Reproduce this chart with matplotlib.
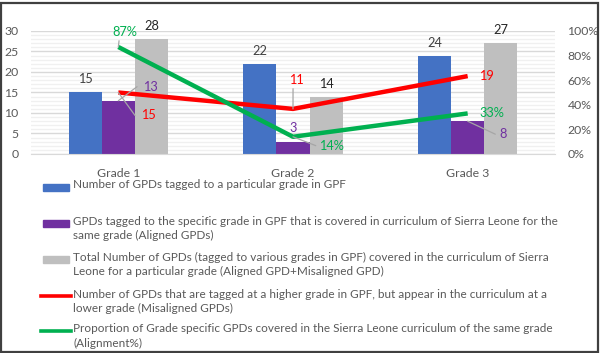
import matplotlib
matplotlib.use("Agg")
import matplotlib.pyplot as plt
from matplotlib.patches import Rectangle
from matplotlib.lines import Line2D
import numpy as np

categories = ["Grade 1", "Grade 2", "Grade 3"]
tagged = [15, 22, 24]
aligned = [13, 3, 8]
total_covered = [28, 14, 27]
misaligned = [15, 11, 19]
alignment_pct = [87, 14, 33]
left_ticks = [0, 5, 10, 15, 20, 25, 30]
right_ticks = [0, 20, 40, 60, 80, 100]

legend_labels = [
    "Number of GPDs tagged to a particular grade in GPF",
    "GPDs tagged to the specific grade in GPF that is covered in curriculum of Sierra Leone for the\nsame grade (Aligned GPDs)",
    "Total Number of GPDs (tagged to various grades in GPF) covered in the curriculum of Sierra\nLeone for a particular grade (Aligned GPD+Misaligned GPD)",
    "Number of GPDs that are tagged at a higher grade in GPF, but appear in the curriculum at a\nlower grade (Misaligned GPDs)",
    "Proportion of Grade specific GPDs covered in the Sierra Leone curriculum of the same grade\n(Alignment%)",
]

BLUE = "#4472C4"
PURPLE = "#7030A0"
GRAY = "#BFBFBF"
RED = "#FF0000"
GREEN = "#00B050"
TXT = "#595959"
LEADER = "#A6A6A6"

plt.rcParams["font.family"] = ["Lato", "DejaVu Sans"]

W, H = 602, 353
fig = plt.figure(figsize=(W / 100, H / 100), dpi=100)
ax = fig.add_axes([31 / W, 1 - 154 / H, (555 - 31) / W, (154 - 31) / H])
ax2 = ax.twinx()

x = np.arange(len(categories))
bw = 0.19
ax.bar(x - bw, tagged, bw, color=BLUE, zorder=2)
ax.bar(x, aligned, bw, color=PURPLE, zorder=2)
ax.bar(x + bw, total_covered, bw, color=GRAY, zorder=2)
ax.plot(x, misaligned, color=RED, lw=3.2, zorder=4, solid_capstyle="butt")
ax2.plot(x, alignment_pct, color=GREEN, lw=3.2, zorder=4, solid_capstyle="butt")

ax.set_xlim(-0.5, 2.5)
ax.set_ylim(0, 30)
ax2.set_ylim(0, 100)
ax.set_yticks(left_ticks)
ax2.set_yticks(right_ticks)
ax2.set_yticklabels([f"{v}%" for v in right_ticks])
ax.set_yticks(np.arange(0, 31, 1), minor=True)
ax.set_xticks(x)
ax.set_xticklabels(categories)

ax.grid(axis="y", which="major", color="#D9D9D9", lw=1.0, zorder=0)
ax.grid(axis="y", which="minor", color="#F0F0F0", lw=1.0, zorder=0)
ax.set_axisbelow(True)
for a in (ax, ax2):
    for s in a.spines.values():
        s.set_visible(False)
    a.tick_params(length=0, labelsize=8.8, labelcolor=TXT, which="both")
ax.tick_params(axis="y", pad=9)
ax2.tick_params(axis="y", pad=9)
ax.tick_params(axis="x", pad=10)
ax.spines["bottom"].set_visible(True)
ax.spines["bottom"].set_color("#D9D9D9")
ax2.set_zorder(ax.get_zorder() + 1)
ax2.patch.set_visible(False)

lab_fs = 9.2
def lab(axx, xv, yv, txt, color, dx, dy, leader=None):
    kw = {}
    if leader is not None:
        kw["arrowprops"] = dict(arrowstyle="-", color=LEADER, lw=0.9,
                                shrinkA=0, shrinkB=0, relpos=leader)
    axx.annotate(txt, xy=(xv, yv), xytext=(dx, dy), textcoords="offset pixels",
                 ha="center", va="center", fontsize=lab_fs, color=color, zorder=6, **kw)

for i in range(3):
    lab(ax, x[i] - bw, tagged[i], str(tagged[i]), "#404040", 0, 13)
    lab(ax, x[i] + bw, total_covered[i], str(total_covered[i]), "#262626", 0, 13)

# aligned labels
lab(ax, x[0], aligned[0], str(aligned[0]), PURPLE, 32, 14, leader=(-0.4, 0.5))
lab(ax, x[1], aligned[1], str(aligned[1]), PURPLE, 0, 14)
lab(ax, x[2], aligned[2], str(aligned[2]), PURPLE, 35, -13, leader=(-0.5, 0.5))
# misaligned labels
lab(ax, x[0], misaligned[0], str(misaligned[0]), RED, 30, -23, leader=(-0.4, 0.5))
lab(ax, x[1], misaligned[1], str(misaligned[1]), RED, 3, 29, leader=(0.3, 0.0))
lab(ax, x[2], misaligned[2], str(misaligned[2]), RED, 19, 0)
# alignment labels
lab(ax2, x[0], alignment_pct[0], f"{alignment_pct[0]}%", GREEN, 6, 15, leader=(0.3, 0.0))
lab(ax2, x[1], alignment_pct[1], f"{alignment_pct[1]}%", GREEN, 38, -9, leader=(-0.1, 0.5))
lab(ax2, x[2], alignment_pct[2], f"{alignment_pct[2]}%", GREEN, 24, 0)

# legend (manual, handles aligned to first line of each entry)
first_line_y = [187, 223, 259, 296, 331]
handles = ["bar", "bar", "bar", "line", "line"]
colors = [BLUE, PURPLE, GRAY, RED, GREEN]
for yy, lbl, hk, c in zip(first_line_y, legend_labels, handles, colors):
    fy = 1 - yy / H
    if hk == "bar":
        fig.patches.append(Rectangle((43 / W, fy - 3.5 / H), 26 / W, 7 / H,
                                     transform=fig.transFigure, color=c))
    else:
        fig.lines.append(Line2D([41 / W, 71 / W], [fy, fy], transform=fig.transFigure,
                                color=c, lw=2.6))
    fig.text(73 / W, fy + 7.5 / H, lbl, ha="left", va="top", fontsize=8.5,
             color=TXT, linespacing=1.38)

fig.patches.append(Rectangle((1 / W, 1.5 / H), 597 / W, 349 / H, transform=fig.transFigure,
                             fill=False, edgecolor="#404040", lw=1.6))

fig.savefig("out.png", dpi=100)
